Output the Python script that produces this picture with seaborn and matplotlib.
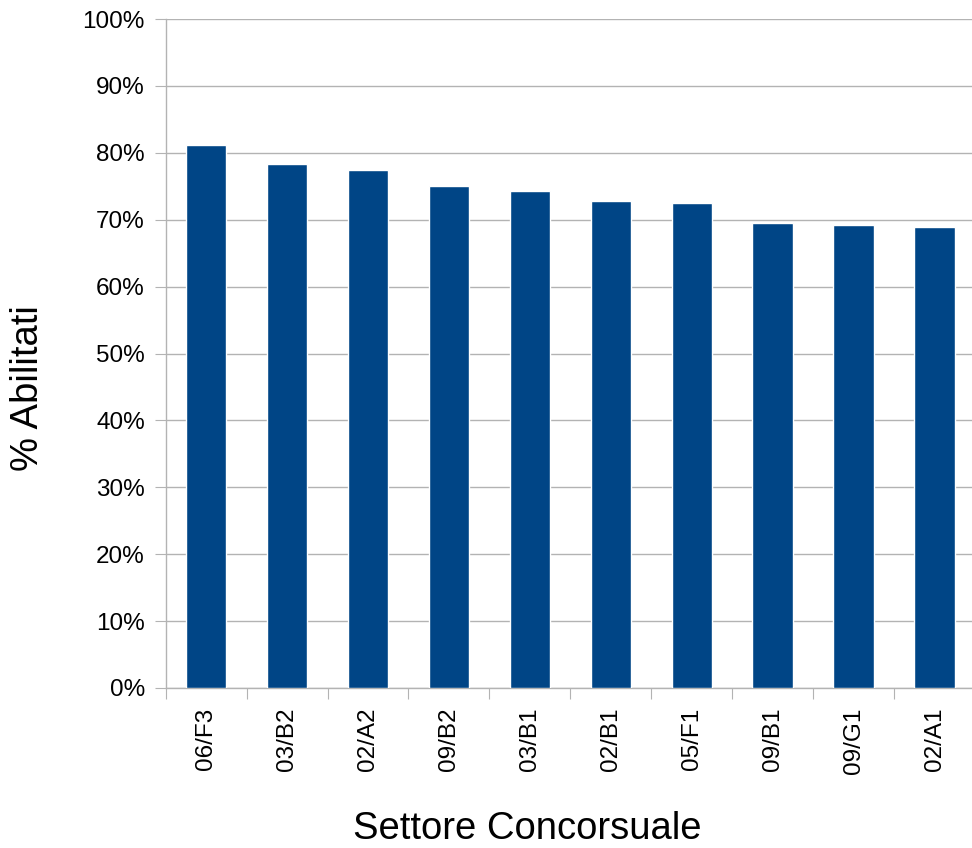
import matplotlib
matplotlib.use("Agg")
import matplotlib.pyplot as plt
import seaborn as sns
import numpy as np
from matplotlib.ticker import FuncFormatter, FixedLocator

settori = ["06/F3", "03/B2", "02/A2", "09/B2", "03/B1",
           "02/B1", "05/F1", "09/B1", "09/G1", "02/A1"]
abilitati = [81.2, 78.3, 77.4, 75.0, 74.3, 72.8, 72.5, 69.5, 69.2, 68.9]

sns.set_style("white")
plt.rcParams['font.family'] = ['Liberation Sans', 'DejaVu Sans']
plt.rcParams['text.color'] = "black"
plt.rcParams['axes.labelcolor'] = "black"

grigio = "#b3b3b3"

fig = plt.figure(figsize=(9.72, 8.48), dpi=100)
ax = fig.add_axes([165.7 / 972, 160 / 848, 809.3 / 972, 669 / 848])

sns.barplot(x=settori, y=abilitati, color="#004586", saturation=1,
            width=0.5, ax=ax, zorder=3)

ax.set_ylim(0, 100)
ax.set_xlim(-0.5, len(settori) - 0.5)
ax.set_yticks(np.arange(0, 101, 10))
ax.yaxis.set_major_formatter(FuncFormatter(lambda v, p: f"{v:.0f}%"))
ax.yaxis.grid(True, color=grigio, linewidth=1.0, zorder=0)
ax.set_axisbelow(True)

# tick di separazione tra le categorie
ax.xaxis.set_minor_locator(FixedLocator(np.arange(-0.5, len(settori), 1)))
ax.tick_params(axis="x", which="minor", length=8, width=0.8, color=grigio, bottom=True)
ax.tick_params(axis="x", which="major", length=0, pad=14, labelsize=17.5,
               rotation=90, labelcolor="black")
ax.tick_params(axis="y", which="major", length=8, width=0.8, color=grigio, pad=7,
               labelsize=17.5, left=True, labelcolor="black")

for s in ["top", "right"]:
    ax.spines[s].set_visible(False)
for s in ["left", "bottom"]:
    ax.spines[s].set_color(grigio)
    ax.spines[s].set_linewidth(1.0)

ax.set_xlabel("Settore Concorsuale", fontsize=27.5, color="black")
ax.set_ylabel("% Abilitati", fontsize=27.5, color="black")
ax.xaxis.set_label_coords(0.447, -0.211)
ax.xaxis.label.set_va("center")
ax.yaxis.set_label_coords(-0.170, 0.448)
ax.yaxis.label.set_va("center")

fig.savefig("out.png", dpi=100)
